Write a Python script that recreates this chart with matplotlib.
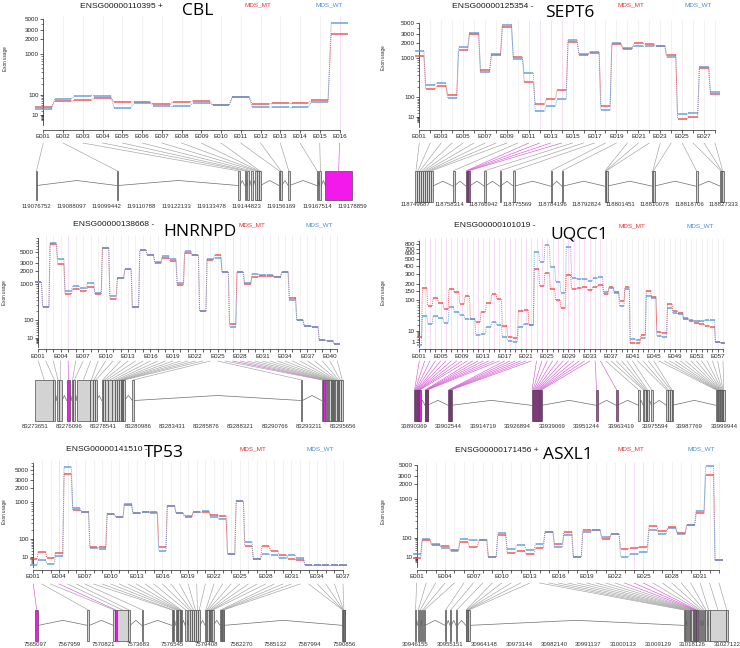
import numpy as np
import matplotlib.pyplot as plt
from matplotlib.patches import Rectangle

W, H = 740, 648
SMALL = ['Liberation Sans', 'DejaVu Sans']
BIG = ['Open Sans', 'DejaVu Sans']

RED = '#EE4B4F'
BLUE = '#5A9BD8'


def f(v):
    # variance-stabilised scale used on the exon usage axis
    return np.arcsinh(np.sqrt(np.asarray(v, dtype=float) / 200.0))


# ---------------- data ----------------
# CBL
cbl_mt = [33, 60, 63, 77, 56, 54, 43, 56, 60, 41, 86, 45, 48, 48, 65, 2520]
cbl_wt = [25, 71, 93, 92, 29, 49, 36, 36, 48, 41, 86, 31, 32, 32, 53, 4180]
cbl_start = [0.0, 26.1, 65.3, 67.4, 68.3, 69.5, 70.9, 71.5, 71.9, 72.2, 78.5, 79.0, 81.5, 90.7, 91.6, 93.5]
cbl_end = [0.3, 26.6, 65.9, 67.9, 68.8, 70.1, 71.3, 71.8, 72.2, 72.5, 78.8, 79.4, 81.9, 91.1, 92.2, 102.1]
cbl_hi = [15]
cbl_gticks = [119076752, 119088097, 119099442, 119110788, 119122133, 119133478,
              119144823, 119156169, 119167514, 119178859]

# SEPT6
sept6_mt = [1067, 184, 212, 119, 1427, 3073, 538, 1133, 4177, 1030, 272, 54, 85, 168,
            2090, 1160, 1280, 47, 1895, 1520, 1985, 1880, 1750, 1150, 6.5, 10.2, 610, 128]
sept6_wt = [1384, 231, 256, 94, 1643, 3265, 487, 1210, 4724, 959, 457, 24.5, 44, 85,
            2290, 1210, 1323, 28, 1985, 1570, 1718, 1760, 1790, 1010, 15.6, 20, 620, 147]
sept6_start = [0.0, 0.5, 1.0, 1.5, 2.1, 2.6, 3.1, 3.6, 4.0, 9.6, 12.85, 13.05, 13.25, 13.45,
               17.5, 21.3, 24.8, 34.2, 37.0, 47.8, 48.0, 48.15, 59.8, 60.0, 70.8, 76.9, 77.1, 77.35]
sept6_end = [0.5, 1.0, 1.5, 2.1, 2.6, 3.1, 3.6, 4.0, 4.45, 9.8, 13.05, 13.25, 13.45, 13.7,
             17.7, 21.5, 25.0, 34.4, 37.2, 48.0, 48.15, 48.3, 60.0, 60.15, 71.0, 77.1, 77.35, 77.6]
sept6_hi = [10, 11, 12, 13]
sept6_gticks = [118749687, 118758314, 118766942, 118775569, 118784196, 118792824,
                118801451, 118810078, 118818706, 118827333]

# HNRNPD
hnrnpd_mt = [1095, 271, 7640, 2770, 578, 768, 685, 832, 578, 6160, 426, 1352, 2138, 271,
             5660, 4343, 2918, 3733, 3330, 959, 4960, 4343, 202, 3500, 4343, 1873, 72, 1873,
             1000, 1480, 1500, 1500, 1450, 1900, 468, 100, 58, 56, 5.9, 5.4, 1.1]
hnrnpd_wt = [1095, 271, 8170, 3610, 685, 890, 784, 1067, 627, 6160, 525, 1352, 2138, 271,
             5660, 4343, 3058, 4140, 3680, 1030, 5408, 4343, 202, 3680, 3800, 1873, 55, 1873,
             1067, 1682, 1620, 1580, 1480, 1900, 409, 100, 58, 56, 5.9, 5.4, 1.1]
hnrnpd_start = [0.0, 1.31, 1.55, 1.74, 2.26, 2.62, 2.74, 2.98, 3.93, 4.12, 4.28, 4.76, 4.88, 5.02,
                5.24, 5.47, 5.71, 5.88, 6.02, 6.12, 6.19, 6.26, 6.31, 6.95, 18.99, 20.45, 20.59,
                20.71, 20.78, 20.85, 20.94, 21.02, 21.11, 21.18, 21.25, 21.35, 21.42, 21.52, 21.61,
                21.73, 21.87]
hnrnpd_end = [1.31, 1.45, 1.74, 1.93, 2.50, 2.74, 2.88, 3.93, 4.12, 4.28, 4.40, 4.88, 5.02, 5.24,
              5.47, 5.71, 5.88, 6.02, 6.12, 6.19, 6.26, 6.31, 6.38, 7.07, 19.09, 20.55, 20.69,
              20.78, 20.85, 20.94, 21.02, 21.11, 21.18, 21.25, 21.35, 21.42, 21.52, 21.61, 21.73,
              21.87, 22.0]
hnrnpd_hi = [4, 26]
hnrnpd_gticks = [83273651, 83276096, 83278541, 83280986, 83283431, 83285876,
                 83288321, 83290766, 83293211, 83295656]

# UQCC1
uqcc1_mt = [3.9, 170, 75, 112, 89, 65, 166, 147, 85, 123, 34, 26, 54, 86, 134, 105, 19, 4.5, 3.4,
            55, 60, 19.6, 350, 191, 313, 164, 102, 66, 286, 164, 171, 178, 160, 184, 196, 132,
            178, 149, 98, 178, 0.6, 0.85, 6.1, 153, 119, 8.9, 8.5, 83, 57, 51, 34, 29, 25, 21.5,
            19, 16, 0.95, 0.7]
uqcc1_wt = [0.2, 42, 22, 41, 37, 25, 70, 53, 43, 32, 32, 5.7, 7.4, 17, 25.5, 19.6, 3.9, 1.7, 1.3,
            17, 23, 19.6, 620, 457, 776, 384, 224, 142, 737, 254, 250, 245, 232, 252, 263, 147,
            174, 138, 75, 164, 2.7, 2.1, 3.2, 125, 114, 5.1, 4.5, 66, 49, 47, 35, 31, 28, 29,
            31, 31, 1.0, 0.7]
uqcc1_start = [0.0, 0.2, 0.4, 0.6, 0.8, 1.0, 1.2, 1.4, 1.6, 1.8, 3.78, 3.92, 4.06, 4.2, 4.34, 4.47,
               12.04, 12.2, 12.35, 12.5, 12.66, 12.82, 41.5, 41.83, 42.15, 42.48, 42.8, 43.13,
               43.45, 43.78, 44.1, 44.45, 44.77, 64.4, 71.5, 79.3, 81.0, 81.4, 81.9, 82.4, 83.9,
               89.2, 89.8, 90.6, 91.1, 106.8, 107.0, 107.2, 107.4, 107.6, 107.8, 108.0, 108.3,
               108.5, 108.7, 108.9, 109.1, 109.35]
uqcc1_end = [0.2, 0.4, 0.6, 0.8, 1.0, 1.2, 1.4, 1.6, 1.8, 2.0, 3.92, 4.06, 4.2, 4.34, 4.47, 4.6,
             12.2, 12.35, 12.5, 12.66, 12.82, 12.98, 41.83, 42.15, 42.48, 42.8, 43.13, 43.45,
             43.78, 44.1, 44.45, 44.77, 45.1, 64.6, 71.7, 79.5, 81.2, 81.6, 82.1, 82.6, 84.1,
             89.4, 90.0, 90.8, 91.3, 107.0, 107.2, 107.4, 107.6, 107.8, 108.0, 108.3, 108.5,
             108.7, 108.9, 109.1, 109.35, 109.58]
uqcc1_hi = list(range(35))
uqcc1_gticks = [33890369, 33902544, 33914719, 33926894, 33939069, 33951244,
                33963419, 33975594, 33987769, 33999944]

# TP53
tp53_mt = [7, 25, 8.6, 23, 4030, 648, 591, 47, 47, 529, 430, 838, 538, 580, 568, 49, 815, 545,
           438, 568, 591, 481, 456, 17.8, 1022, 52, 7.3, 52, 29, 15.9, 6.7, 4.6,
           0.3, 0.3, 0.3, 0.3, 0.3]
tp53_wt = [0.5, 4.6, 0.8, 12.3, 5740, 707, 591, 41, 36, 509, 430, 907, 538, 580, 538, 30, 815,
           545, 462, 568, 600, 447, 381, 17.8, 1022, 75, 7.3, 17.8, 15.9, 7.9, 15.9, 8.6,
           0.3, 0.3, 0.3, 0.3, 0.3]
tp53_start = [0.0, 4.36, 6.53, 6.67, 6.81, 7.78, 8.90, 11.40, 11.48, 11.73, 11.84, 11.95, 12.07,
              12.15, 12.51, 12.79, 12.95, 13.12, 13.29, 13.46, 13.62, 14.18, 14.29, 14.37, 14.48,
              14.60, 14.71, 14.79, 15.43, 15.51, 15.60, 15.68, 25.63, 25.66, 25.69, 25.71, 25.74]
tp53_end = [0.28, 4.53, 6.67, 6.81, 7.78, 7.92, 9.04, 11.48, 11.56, 11.84, 11.95, 12.07, 12.15,
            12.23, 12.65, 12.95, 13.12, 13.29, 13.46, 13.62, 13.76, 14.29, 14.37, 14.48, 14.60,
            14.71, 14.79, 14.87, 15.51, 15.60, 15.68, 15.76, 25.66, 25.69, 25.71, 25.74, 25.76]
tp53_hi = [0, 3]
tp53_gticks = [7565097, 7567959, 7570821, 7573683, 7576545, 7579408,
               7582270, 7585132, 7587994, 7590856]

# ASXL1
asxl1_mt = [8.5, 80, 52, 49, 29, 72, 43, 80, 10.5, 120, 21, 26.5, 17, 40, 156, 60, 156, 10.5,
            170, 178, 90, 132, 35, 40, 44, 221, 163, 208, 142, 241, 470, 3120, 4]
asxl1_wt = [16, 88, 56, 40, 25, 88, 80, 85, 10.5, 139, 33, 52, 31, 60, 156, 43, 123, 10.5,
            149, 178, 103, 132, 10.5, 16, 22, 178, 135, 194, 132, 241, 547, 4770, 4]
asxl1_start = [0.0, 0.69, 1.21, 1.82, 2.25, 7.79, 9.08, 10.64, 13.15, 13.32, 13.49, 13.67, 13.84,
               69.63, 69.98, 70.50, 70.93, 71.36, 71.62, 71.97, 72.23, 72.40, 72.57, 72.75, 72.92,
               73.35, 73.78, 74.30, 74.82, 75.26, 75.86, 76.38, 80.70]
asxl1_end = [0.26, 1.04, 1.47, 2.16, 2.60, 8.13, 9.43, 10.99, 13.32, 13.49, 13.67, 13.84, 14.10,
             69.81, 70.24, 70.76, 71.19, 71.54, 71.88, 72.23, 72.40, 72.57, 72.75, 72.92, 73.09,
             73.61, 74.04, 74.56, 75.08, 75.60, 76.38, 80.70, 80.97]
asxl1_hi = [22, 23, 24]
asxl1_gticks = [30946155, 30955151, 30964148, 30973144, 30982140, 30991137,
                31000133, 31009129, 31018126, 31027122]

ylab_std = [10, 100, 1000, 2000, 3000, 5000]
ylab_uqcc1 = [1, 10, 100, 150, 200, 300, 400, 500, 600, 700, 800]
yminor_all = [2, 3, 4, 5, 6, 7, 8, 9, 20, 30, 40, 50, 60, 70, 80, 90,
              200, 300, 400, 500, 600, 700, 800, 900,
              2000, 3000, 4000, 5000, 6000, 7000, 8000, 9000, 10000]

# ---------------- layout (pixels inside each panel) ----------------
panels = [
    dict(name='CBL', ens='ENSG00000110395 +', ox=0, oy=0, h=210,
         mt=cbl_mt, wt=cbl_wt, st=cbl_start, en=cbl_end, hi=cbl_hi, gt=cbl_gticks,
         ylab=ylab_std, ytop=5000, step=1,
         e1=43.3, eN=339.5, yz=125, sc=46, xax=130,
         gx0=36, gx1=352, by0=171, by1=200, cy0=143, gly=206,
         tpos=(121, 6), npos=(198, 11), mpos=(258, 5), wpos=(329, 5), lpos=(6, 59)),
    dict(name='SEPT6', ens='ENSG00000125354 -', ox=370, oy=0, h=210,
         mt=sept6_mt, wt=sept6_wt, st=sept6_start, en=sept6_end, hi=sept6_hi, gt=sept6_gticks,
         ylab=ylab_std, ytop=5000, step=2,
         e1=49.3, eN=345, yz=126.7, sc=44.7, xax=130,
         gx0=45, gx1=353.3, by0=170.7, by1=201.7, cy0=143, gly=204.5,
         tpos=(123, 6), npos=(200, 12.7), mpos=(261, 5), wpos=(328, 5), lpos=(13, 58)),
    dict(name='HNRNPD', ens='ENSG00000138668 -', ox=0, oy=210, h=220,
         mt=hnrnpd_mt, wt=hnrnpd_wt, st=hnrnpd_start, en=hnrnpd_end, hi=hnrnpd_hi, gt=hnrnpd_gticks,
         ylab=ylab_std, ytop=10000, step=3,
         e1=38.3, eN=337.3, yz=137.3, sc=41, xax=139.3,
         gx0=35, gx1=343.3, by0=170, by1=211, cy0=151, gly=216.7,
         tpos=(114, 15), npos=(200, 21.7), mpos=(252, 15), wpos=(319, 15), lpos=(4.5, 83)),
    dict(name='UQCC1', ens='ENSG00000101019 -', ox=370, oy=210, h=220,
         mt=uqcc1_mt, wt=uqcc1_wt, st=uqcc1_start, en=uqcc1_end, hi=uqcc1_hi, gt=uqcc1_gticks,
         ylab=ylab_uqcc1, ytop=900, step=4,
         e1=49.3, eN=353, yz=137.3, sc=71.3, xax=139.3,
         gx0=44.3, gx1=354, by0=180, by1=210.7, cy0=151, gly=216.7,
         tpos=(125, 15.7), npos=(209, 25), mpos=(262, 15.7), wpos=(330, 15.7), lpos=(13, 83)),
    dict(name='TP53', ens='ENSG00000141510 -', ox=0, oy=430, h=218,
         mt=tp53_mt, wt=tp53_wt, st=tp53_start, en=tp53_end, hi=tp53_hi, gt=tp53_gticks,
         ylab=ylab_std, ytop=7000, step=3,
         e1=33.3, eN=343, yz=136.7, sc=42, xax=140,
         gx0=35, gx1=344, by0=180, by1=210.7, cy0=154, gly=214.2,
         tpos=(106.5, 19.3), npos=(164, 23.3), mpos=(252.5, 19.3), wpos=(320, 19.3), lpos=(5, 82)),
    dict(name='ASXL1', ens='ENSG00000171456 +', ox=370, oy=430, h=218,
         mt=asxl1_mt, wt=asxl1_wt, st=asxl1_start, en=asxl1_end, hi=asxl1_hi, gt=asxl1_gticks,
         ylab=ylab_std, ytop=5000, step=3,
         e1=46.7, eN=349, yz=136.7, sc=44, xax=140,
         gx0=45, gx1=357.3, by0=180, by1=210.7, cy0=153, gly=214.2,
         tpos=(126.7, 20), npos=(198, 25), mpos=(261, 19), wpos=(331.7, 19), lpos=(13.3, 82)),
]

fig = plt.figure(figsize=(W / 100, H / 100), dpi=100)
fig.patch.set_facecolor('white')


def draw_panel(p):
    ox, oy, ph = p['ox'], p['oy'], p['h']
    n = len(p['mt'])
    sp = (p['eN'] - p['e1']) / (n - 1)
    hi = set(p['hi'])

    # canvas in panel pixel coordinates
    cv = fig.add_axes([ox / W, 1 - (oy + ph) / H, 370 / W, ph / H], zorder=0)
    cv.set_xlim(0, 370)
    cv.set_ylim(ph, 0)
    cv.axis('off')

    tx, ty = p['tpos']
    cv.text(tx, ty, p['ens'], ha='center', va='center', fontsize=6.1, family=SMALL, color='#1a1a1a')
    nx, ny = p['npos']
    cv.text(nx, ny, p['name'], ha='center', va='center', fontsize=12.5, family=BIG, color='black')
    cv.text(*p['mpos'], 'MDS_MT', ha='center', va='center', fontsize=4.6, family=SMALL, color='#E8333A')
    cv.text(*p['wpos'], 'MDS_WT', ha='center', va='center', fontsize=4.6, family=SMALL, color='#4A8FD4')
    cv.text(*p['lpos'], 'Exon usage', ha='center', va='center', fontsize=3.3, family=SMALL,
            rotation=90, color='#222222')

    # gene model
    g0, g1 = p['gt'][0], p['gt'][-1]
    span = (g1 - g0) / 1000.0

    def gx(kb):
        return p['gx0'] + kb / span * (p['gx1'] - p['gx0'])

    by0, by1 = p['by0'], p['by1']
    base = by0 + 0.5 * (by1 - by0)
    st, en = p['st'], p['en']
    for i in range(n - 1):
        a, b = gx(en[i]), gx(st[i + 1])
        if b - a > 1.0:
            cv.plot([a, (a + b) / 2, b], [base, base - 5, base], color='#6E6E6E', lw=0.5, zorder=1)
    for i in range(n):
        a, b = gx(st[i]), gx(en[i])
        w = max(b - a, 1.4)
        fc = '#F219ED' if i in hi else '#D3D3D3'
        cv.add_patch(Rectangle((a, by0), w, by1 - by0, facecolor=fc, edgecolor='#4A4A4A',
                               lw=0.5, zorder=2))
    # connectors from exon labels to gene model
    for i in range(n):
        xt = p['e1'] + i * sp
        xm = gx((st[i] + en[i]) / 2)
        c = '#D65CD6' if i in hi else '#A2A2A2'
        cv.plot([xt, xm], [p['cy0'], by0], color=c, lw=0.45, zorder=1)
    for t in p['gt']:
        cv.text(gx((t - g0) / 1000.0), p['gly'], str(t), ha='center', va='center',
                fontsize=4.3, family=SMALL, color='#333333')

    # exon usage plot
    yz, sc = p['yz'], p['sc']
    ftop = float(f(p['ytop']))
    top_px = yz - sc * ftop - 3
    left_px = p['e1'] - 0.6 * sp
    right_px = p['eN'] + 0.6 * sp
    ax = fig.add_axes([(ox + left_px) / W, 1 - (oy + yz) / H,
                       (right_px - left_px) / W, (yz - top_px) / H], zorder=2)
    ax.patch.set_alpha(0)
    ax.set_xlim(-0.6, n - 1 + 0.6)
    ytop_f = (yz - top_px) / sc
    ax.set_ylim(0, ytop_f)

    below = -(p['xax'] - yz) / sc
    cols = ['#F7CCF4' if i in hi else '#ECECEC' for i in range(n)]
    ax.vlines(np.arange(n), below, ytop_f, colors=cols, lw=0.5, clip_on=False, zorder=0)

    xs = np.arange(n)
    for vals, col in ((p['mt'], RED), (p['wt'], BLUE)):
        fv = f(vals)
        ax.hlines(fv, xs - 0.42, xs + 0.42, colors=col, lw=1.2, alpha=0.85, zorder=3, clip_on=False)
        for i in range(n - 1):
            ax.plot([i + 0.42, i + 1 - 0.42], [fv[i], fv[i + 1]], ls=(0, (1, 1)), color=col,
                    lw=0.7, alpha=0.85, zorder=2, clip_on=False)

    for s in ('top', 'right'):
        ax.spines[s].set_visible(False)
    ax.spines['left'].set_position(('data', 0))
    ax.spines['left'].set_bounds(0, ftop)
    ax.spines['bottom'].set_position(('outward', (p['xax'] - yz) * 0.72))
    ax.spines['bottom'].set_bounds(0, n - 1)
    for s in ('left', 'bottom'):
        ax.spines[s].set_linewidth(0.5)
        ax.spines[s].set_color('#222222')

    ax.set_yticks(f(p['ylab']))
    ax.set_yticklabels([str(v) for v in p['ylab']])
    mins = [v for v in yminor_all if v <= p['ytop'] and v not in p['ylab']]
    ax.set_yticks(f(mins), minor=True)
    ax.set_xticks(xs)
    ax.set_xticklabels(['E%03d' % (i + 1) if i % p['step'] == 0 else '' for i in range(n)])
    ax.tick_params(axis='both', which='major', length=2, width=0.5, labelsize=4.5, pad=1.2,
                   color='#222222')
    ax.tick_params(axis='y', which='minor', length=1.2, width=0.4, color='#222222')
    for lab in ax.get_xticklabels() + ax.get_yticklabels():
        lab.set_family(SMALL)
        lab.set_color('#222222')


for p in panels:
    draw_panel(p)

fig.savefig('out.png', dpi=100)
